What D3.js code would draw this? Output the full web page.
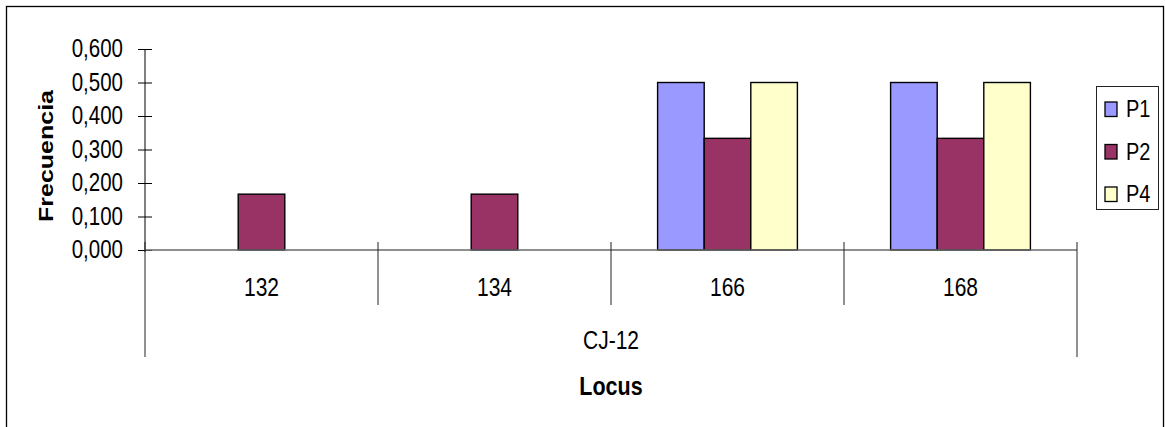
<!DOCTYPE html>
<html><head><meta charset="utf-8">
<script src="https://cdn.jsdelivr.net/npm/d3@7"></script>
<style>body{margin:0;background:#fff}svg{display:block;font-family:"Liberation Sans",Arial,sans-serif}</style>
</head><body><svg id="c" width="1165" height="427"></svg>
<script>
const categories = ["132","134","166","168"];
const groupLabel = "CJ-12";
const seriesNames = ["P1","P2","P4"];
const P1 = [0, 0, 0.5, 0.5];
const P2 = [0.1667, 0.1667, 0.3333, 0.3333];
const P4 = [0, 0, 0.5, 0.5];
const yTicks = [0, 0.1, 0.2, 0.3, 0.4, 0.5, 0.6];
const colors = ["#9999FF","#993366","#FFFFCC"];

const seriesVals = [P1, P2, P4];
const svg = d3.select("#c");
const L = 145, R = 1077, T = 49, B = 250;
const SY = 1.22; // vertical stretch of text in reference

function txt(x, y, s, opts={}) {
  const g = svg.append("g").attr("transform", `translate(${x},${y}) scale(1,${SY})` + (opts.rotate ? ` rotate(${opts.rotate})` : ""));
  return g.append("text").attr("x",0).attr("y",0)
    .attr("text-anchor", opts.anchor || "middle")
    .attr("font-size", opts.size || 20)
    .attr("font-weight", opts.bold ? "bold" : "normal")
    .attr("fill","#000").text(s);
}

// frame
svg.append("rect").attr("x",6.5).attr("y",6.5).attr("width",1157).attr("height",440)
  .attr("fill","none").attr("stroke","#000").attr("stroke-width",1.3);

const x = d3.scaleBand().domain(categories).range([L,R]).paddingInner(0).paddingOuter(0);
const xs = d3.scaleBand().domain(seriesNames).range([0,x.bandwidth()]).paddingInner(0).paddingOuter(1);
const y = d3.scaleLinear().domain([0,0.6]).range([B,T]);

// y axis
const ya = svg.append("g").attr("transform",`translate(${L},0)`)
  .call(d3.axisLeft(y).tickValues(yTicks).tickSize(7).tickFormat(""));
ya.select(".domain").attr("stroke","#000").attr("d",`M0,${T}V${B+2}`);
ya.selectAll(".tick line").attr("x1",-7).attr("x2",7).attr("stroke","#000");
yTicks.forEach(v=>{
  txt(L-22, y(v)+8.3, d3.format(".3f")(v).replace(".",","), {anchor:"end", size:20.5});
});

// bars
categories.forEach((c,i)=>{
  seriesNames.forEach((s,j)=>{
    const v = seriesVals[j][i];
    if(v>0){
      svg.append("rect").attr("x",x(c)+xs(s)).attr("y",y(v)).attr("width",xs.bandwidth()).attr("height",B-y(v))
        .attr("fill",colors[j]).attr("stroke","#000").attr("stroke-width",1.4);
    }
  });
});

// x axis line
svg.append("line").attr("x1",L).attr("x2",R).attr("y1",B).attr("y2",B).attr("stroke","#6a6a6a").attr("stroke-width",1.4);
// category dividers
categories.forEach((c,i)=>{
  const xx = x(c);
  svg.append("line").attr("x1",xx).attr("x2",xx).attr("y1",B-8).attr("y2", i===0?357:305).attr("stroke","#222").attr("stroke-width",1);
  txt(xx+x.bandwidth()/2, 296, c, {size:21});
});
svg.append("line").attr("x1",R).attr("x2",R).attr("y1",B-8).attr("y2",357).attr("stroke","#222").attr("stroke-width",1);
txt((L+R)/2, 349, groupLabel, {size:21});

// axis titles
txt((L+R)/2, 395, "Locus", {size:21.5, bold:true});
txt(53, 156, "Frecuencia", {size:20.5, bold:true, rotate:-90});

// legend
const lg = svg.append("g");
lg.append("rect").attr("x",1096.5).attr("y",86.5).attr("width",62).attr("height",123).attr("fill","#fff").attr("stroke","#222").attr("stroke-width",1);
seriesNames.forEach((s,j)=>{
  const top = 102 + j*42.5;
  lg.append("rect").attr("x",1105).attr("y",top).attr("width",12).attr("height",14.5).attr("fill",colors[j]).attr("stroke","#000").attr("stroke-width",1.3);
  txt(1126, top+15, s, {anchor:"start", size:20});
});
</script></body></html>
